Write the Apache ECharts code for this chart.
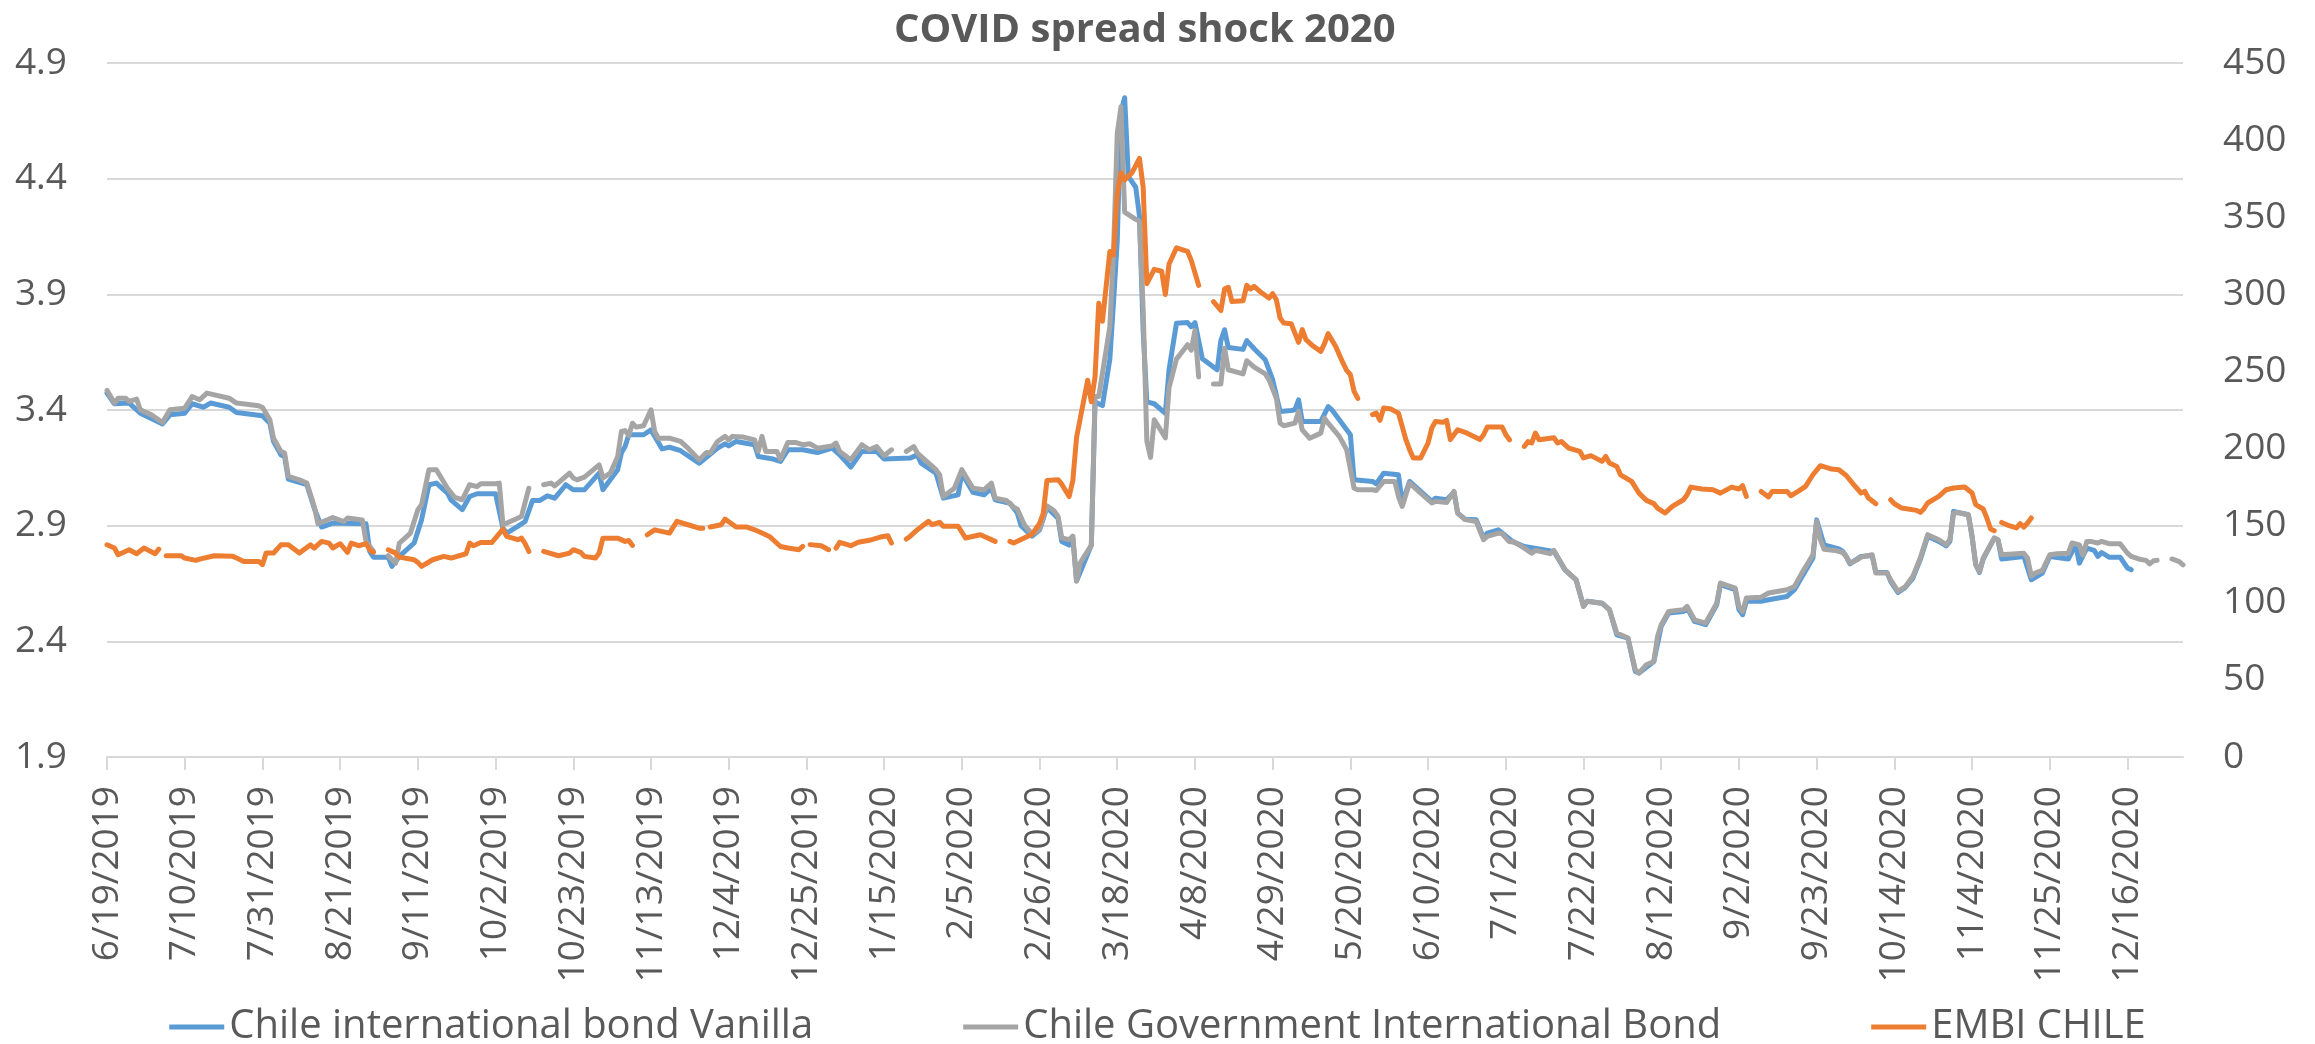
<!DOCTYPE html>
<html>
<head>
<meta charset="utf-8">
<title>COVID spread shock 2020</title>
<script src="https://cdn.jsdelivr.net/npm/echarts@6/dist/echarts.min.js"></script>
<style>
  html, body { margin: 0; padding: 0; background: #ffffff; }
  #chart { width: 2315px; height: 1044px; }
</style>
</head>
<body>
<div id="chart"></div>
<script>
// axis range: one category per calendar day, 6/19/2019 .. 12/31/2020
const startDay = [2019, 5, 19]
const dayCount = 562

// [day index, value]; '-' = no quote that day (holiday), line breaks there
const vanilla = [
  [0,3.473],[2,3.427],[6,3.430],[9,3.386],[15,3.340],[17,3.379],[21,3.386],[23,3.427],[26,3.412],[28,3.430],
  [33,3.412],[35,3.389],[42,3.375],[44,3.343],[45,3.264],[47,3.206],[48,3.199],[49,3.101],[54,3.077],[56,2.976],
  [58,2.894],[61,2.911],[70,2.908],[71,2.789],[72,2.764],[76,2.764],[77,2.724],[79,2.767],[83,2.825],[85,2.925],
  [87,3.077],[89,3.084],[92,3.041],[93,3.010],[96,2.969],[98,3.026],[100,3.038],[105,3.038],[107,2.889],[108,2.868],
  [111,2.897],[113,2.918],[115,3.009],[117,3.009],[119,3.029],[121,3.019],[124,3.077],[126,3.055],[129,3.055],[133,3.127],
  [134,3.055],[138,3.142],[139,3.214],[140,3.242],[141,3.293],[145,3.293],[147,3.314],[148,3.286],[150,3.232],[152,3.239],
  [155,3.224],[157,3.202],[160,3.170],[162,3.196],[165,3.235],[167,3.254],[168,3.245],[170,3.264],[175,3.250],[176,3.199],
  [180,3.188],[182,3.178],[184,3.228],[188,3.228],[192,3.216],[196,3.235],[198,3.206],[201,3.153],[204,3.221],[208,3.221],
  [210,3.188],[217,3.192],[219,3.206],[220,3.170],[224,3.127],[226,3.019],[230,3.033],[231,3.127],[234,3.044],[237,3.033],
  [239,3.062],[240,3.012],[244,2.997],[246,2.955],[247,2.900],[250,2.855],[252,2.881],[254,2.979],[257,2.932],[258,2.832],
  [260,2.816],[261,2.847],[262,2.661],[266,2.816],[267,3.435],[269,3.419],[271,3.620],[272,3.868],[273,4.131],[274,4.688],
  [275,4.750],[276,4.410],[278,4.363],[279,4.239],[280,3.744],[281,3.435],[283,3.427],[286,3.385],[287,3.574],[289,3.775],
  [292,3.778],[293,3.760],[294,3.778],[296,3.622],[300,3.574],[301,3.700],[302,3.747],[303,3.670],[307,3.662],[308,3.700],
  [310,3.665],[313,3.617],[315,3.531],[317,3.394],[320,3.398],[321,3.401],[322,3.444],[323,3.350],[328,3.350],[330,3.415],
  [331,3.401],[336,3.293],[337,3.098],[342,3.091],[343,3.081],[345,3.127],[349,3.120],[350,2.998],[352,3.091],[355,3.048],
  [358,3.005],[359,3.019],[362,3.012],[364,3.044],[365,2.954],[367,2.928],[370,2.926],[372,2.846],[373,2.868],[376,2.882],
  [380,2.830],[383,2.810],[391,2.789],[394,2.709],[397,2.666],[399,2.551],[400,2.573],[404,2.565],[406,2.537],[408,2.428],
  [411,2.414],[413,2.270],[414,2.263],[418,2.313],[420,2.465],[422,2.522],[426,2.529],[427,2.544],[429,2.486],[432,2.472],
  [435,2.558],[436,2.645],[440,2.623],[441,2.537],[442,2.515],[443,2.573],[447,2.573],[449,2.580],[454,2.594],[456,2.623],
  [461,2.760],[462,2.925],[464,2.817],[468,2.800],[469,2.789],[470,2.767],[471,2.735],[474,2.767],[477,2.771],[478,2.698],
  [481,2.698],[482,2.659],[484,2.611],[486,2.634],[488,2.673],[490,2.753],[492,2.853],[495,2.832],[497,2.813],[498,2.832],
  [499,2.962],[503,2.947],[504,2.853],[505,2.731],[506,2.698],[507,2.756],[510,2.846],[511,2.839],[512,2.756],[518,2.767],
  [520,2.666],[523,2.695],[525,2.767],[530,2.756],[532,2.818],[533,2.738],[535,2.803],[537,2.793],[538,2.767],[539,2.784],
  [541,2.764],[544,2.764],[546,2.717],[547,2.709]
]

const govBond = [
  [0,3.485],[2,3.430],[3,3.451],[5,3.451],[6,3.437],[8,3.447],[9,3.401],[12,3.379],[15,3.346],[17,3.401],
  [21,3.408],[23,3.458],[25,3.444],[27,3.473],[33,3.451],[35,3.430],[41,3.418],[42,3.412],[44,3.358],[45,3.278],
  [47,3.221],[48,3.214],[49,3.113],[52,3.098],[54,3.084],[56,2.983],[57,2.908],[61,2.935],[64,2.918],[65,2.933],
  [69,2.925],[70,2.832],[72,2.789],[75,'-'],[76,2.770],[78,2.738],[79,2.825],[80,2.839],[82,2.868],[84,2.969],
  [85,2.990],[87,3.142],[89,3.142],[92,3.062],[94,3.022],[96,3.012],[98,3.077],[100,3.069],[101,3.081],[105,3.081],
  [106,3.084],[107,2.904],[112,2.940],[114,3.062],[117,'-'],[118,3.077],[120,3.084],[121,3.072],[125,3.127],[126,3.106],
  [127,3.098],[129,3.110],[133,3.163],[134,3.106],[136,3.127],[138,3.199],[139,3.307],[140,3.311],[141,3.290],[142,3.343],
  [143,3.326],[145,3.332],[147,3.401],[148,3.307],[149,3.278],[152,3.278],[155,3.264],[157,3.235],[160,3.185],[162,3.216],
  [163,3.214],[165,3.264],[167,3.286],[168,3.271],[169,3.286],[172,3.283],[175,3.271],[176,3.221],[177,3.286],[178,3.221],
  [181,3.221],[182,3.188],[184,3.260],[186,3.260],[188,3.250],[190,3.254],[192,3.235],[196,3.245],[197,3.257],[198,3.221],
  [201,3.185],[204,3.250],[206,3.228],[208,3.242],[210,3.202],[212,3.228],[215,'-'],[216,3.221],[218,3.242],[219,3.214],
  [224,3.142],[225,3.120],[226,3.026],[229,3.062],[231,3.142],[234,3.062],[237,3.055],[239,3.084],[240,3.019],[243,3.009],
  [245,2.980],[246,2.971],[248,2.901],[250,2.863],[252,2.886],[254,2.986],[256,2.963],[257,2.940],[258,2.847],[260,2.839],
  [261,2.855],[262,2.661],[263,2.739],[266,2.816],[267,3.458],[268,3.458],[271,3.760],[272,4.085],[273,4.595],[274,4.711],
  [275,4.255],[278,4.224],[279,4.216],[280,3.837],[281,3.265],[282,3.195],[283,3.358],[286,3.280],[287,3.497],[289,3.620],
  [292,3.682],[293,3.659],[294,3.744],[295,3.543],[296,'-'],[299,3.512],[301,3.512],[302,3.667],[303,3.574],[307,3.556],
  [308,3.613],[310,3.585],[313,3.556],[314,3.531],[316,3.451],[317,3.343],[318,3.332],[321,3.343],[322,3.394],[323,3.314],
  [325,3.278],[328,3.300],[329,3.365],[330,3.343],[333,3.286],[335,3.228],[337,3.062],[338,3.055],[342,3.055],[343,3.052],
  [345,3.091],[348,3.091],[349,3.026],[350,2.983],[352,3.084],[355,3.041],[358,2.998],[359,3.005],[362,3.000],[364,3.048],
  [365,2.954],[367,2.926],[370,2.918],[372,2.839],[373,2.854],[376,2.868],[377,2.865],[379,2.830],[380,2.832],[383,2.803],
  [385,2.781],[386,2.793],[390,2.779],[391,2.793],[394,2.709],[397,2.666],[399,2.551],[400,2.573],[404,2.565],[406,2.537],
  [408,2.436],[411,2.414],[413,2.277],[414,2.263],[416,2.299],[418,2.313],[419,2.421],[420,2.472],[422,2.529],[426,2.537],
  [427,2.551],[429,2.493],[432,2.479],[435,2.565],[436,2.652],[440,2.630],[441,2.551],[442,2.529],[443,2.587],[447,2.591],
  [449,2.609],[454,2.623],[456,2.637],[458,2.695],[461,2.774],[462,2.918],[463,2.840],[464,2.798],[467,2.793],[469,2.784],
  [470,2.767],[471,2.738],[473,2.753],[474,2.764],[477,2.774],[478,2.695],[481,2.695],[482,2.666],[484,2.616],[486,2.637],
  [488,2.681],[490,2.760],[492,2.861],[495,2.839],[497,2.818],[498,2.839],[499,2.954],[500,2.957],[503,2.947],[504,2.853],
  [505,2.731],[506,2.702],[507,2.760],[509,2.818],[510,2.846],[511,2.839],[512,2.774],[518,2.781],[519,2.760],[520,2.681],
  [521,2.695],[523,2.707],[525,2.774],[527,2.779],[530,2.781],[531,2.825],[533,2.817],[534,2.774],[535,2.832],[536,2.832],
  [538,2.825],[539,2.832],[541,2.822],[544,2.822],[546,2.781],[547,2.767],[549,2.756],[551,2.750],[552,2.735],[553,2.748],
  [554,2.750],[555,'-'],[558,2.756],[560,2.745],[561,2.731]
]

const embi = [
  [0,137.6],[2,135.5],[3,131.1],[6,134.4],[8,131.8],[10,135.5],[13,131.8],[14,134.8],[15,'-'],[16,130.5],
  [20,130.5],[21,129.0],[24,127.5],[25,128.3],[29,130.5],[34,130.1],[35,129.0],[37,126.8],[41,126.8],[42,124.7],
  [43,132.2],[45,132.2],[47,137.6],[49,137.6],[52,132.2],[55,137.6],[56,135.5],[58,139.8],[60,138.7],[61,135.5],
  [63,138.3],[65,132.7],[66,138.7],[68,137.0],[70,138.3],[71,134.4],[72,132.7],[75,'-'],[76,134.4],[78,132.2],
  [79,129.6],[83,127.9],[84,126.2],[85,123.6],[88,127.9],[91,130.1],[93,129.0],[97,131.8],[98,138.7],[99,137.0],
  [101,139.1],[104,139.1],[107,147.8],[108,143.0],[111,140.9],[112,141.9],[113,138.3],[114,133.3],[117,'-'],[118,133.3],
  [122,130.5],[125,132.2],[126,134.4],[128,132.7],[129,130.1],[132,129.0],[133,132.2],[134,141.9],[138,141.9],[140,139.8],
  [141,140.4],[142,137.2],[145,'-'],[146,144.1],[148,147.3],[152,145.2],[154,152.8],[157,150.6],[160,148.4],[161,148.4],
  [162,'-'],[163,149.1],[166,150.6],[167,154.3],[170,149.1],[173,149.1],[175,147.3],[177,145.2],[179,143.0],[182,136.5],
  [184,135.5],[187,134.4],[188,136.5],[189,'-'],[190,137.7],[193,137.0],[195,134.4],[196,'-'],[197,135.5],[198,139.2],
  [201,137.0],[203,139.2],[206,140.5],[209,142.6],[211,143.5],[212,138.7],[215,'-'],[216,141.3],[217,143.0],[219,147.4],
  [222,152.8],[223,150.6],[225,152.2],[226,149.6],[230,149.6],[232,142.0],[236,144.1],[238,142.0],[240,139.8],[243,'-'],
  [244,139.8],[245,138.7],[247,141.0],[250,144.5],[252,151.4],[253,158.0],[254,179.3],[257,179.8],[258,176.9],[260,168.9],
  [261,179.3],[262,207.1],[265,244.3],[266,230.3],[267,246.6],[268,294.2],[269,282.5],[271,327.8],[272,325.5],[273,364.9],
  [274,378.9],[275,374.2],[277,378.9],[279,388.1],[280,369.6],[281,306.9],[283,316.2],[285,315.0],[286,299.9],[287,319.7],
  [289,330.1],[292,327.8],[293,322.0],[294,313.9],[295,305.8],[296,'-'],[299,295.3],[301,289.5],[302,303.4],[303,304.6],
  [304,295.3],[307,295.8],[308,305.8],[309,303.4],[310,305.2],[312,301.0],[314,297.6],[315,300.4],[316,296.5],[317,284.6],
  [318,281.4],[320,281.0],[321,274.9],[322,268.9],[323,277.1],[324,270.6],[326,266.3],[328,263.0],[329,268.0],[330,274.5],
  [332,266.3],[334,255.5],[335,250.7],[336,247.9],[337,237.1],[338,232.5],[341,'-'],[342,222.0],[343,223.0],[344,218.3],
  [345,226.3],[347,225.6],[349,223.0],[350,214.4],[351,205.8],[352,199.3],[353,193.9],[355,193.9],[357,203.6],[358,213.3],
  [359,217.6],[361,217.0],[362,218.3],[363,205.8],[365,212.2],[367,210.5],[371,205.8],[372,209.0],[373,214.0],[376,214.0],
  [377,214.0],[378,209.0],[379,205.7],[380,'-'],[383,201.4],[384,204.6],[385,203.6],[386,210.1],[387,205.7],[391,207.0],
  [392,203.6],[393,204.6],[395,200.3],[398,198.2],[399,193.9],[401,195.4],[404,191.7],[405,194.9],[406,190.6],[408,188.4],
  [409,183.0],[412,178.7],[414,171.1],[416,166.4],[418,164.3],[419,161.4],[421,158.2],[423,162.5],[426,166.8],[427,170.1],
  [428,175.0],[431,173.8],[434,173.3],[436,171.1],[439,175.0],[441,173.8],[442,175.9],[443,169.0],[446,'-'],[447,172.2],
  [449,168.6],[450,172.2],[454,172.2],[455,169.4],[457,172.2],[459,175.5],[461,183.0],[463,188.9],[465,187.4],[466,186.7],
  [468,186.3],[470,182.5],[472,176.6],[474,171.2],[475,172.2],[476,167.9],[478,164.2],[481,'-'],[482,166.8],[483,164.2],
  [485,161.4],[489,159.9],[490,158.6],[491,161.0],[492,164.7],[495,169.0],[497,173.3],[499,174.4],[502,175.1],[504,171.2],
  [505,163.6],[507,160.8],[508,155.0],[509,147.8],[510,146.7],[511,'-'],[512,152.1],[514,150.0],[516,148.5],[517,151.3],
  [518,149.1],[519,151.7],[520,155.0]
]

const seriesNames = ['Chile international bond Vanilla', 'Chile Government International Bond', 'EMBI CHILE']
const colors = ['#5B9BD5', '#A5A5A5', '#ED7D31']

// date labels M/D/YYYY for every day on the axis
const categories = []
for (let i = 0; i < dayCount; i++) {
  const d = new Date(Date.UTC(startDay[0], startDay[1], startDay[2] + i))
  categories.push((d.getUTCMonth() + 1) + '/' + d.getUTCDate() + '/' + d.getUTCFullYear())
}

const font = 'Open Sans'
const txt = '#595959'
const grid = '#D9D9D9'

const makeLine = (idx, data, yIdx) => ({
  name: seriesNames[idx],
  type: 'line',
  yAxisIndex: yIdx,
  data: data,
  showSymbol: false,
  symbol: 'none',
  connectNulls: false,
  itemStyle: { color: colors[idx] },
  lineStyle: { color: colors[idx], width: 5, cap: 'round', join: 'round' }
})

const myChart = echarts.init(document.getElementById('chart'))
myChart.setOption({
  animation: false,
  backgroundColor: '#ffffff',
  title: {
    text: 'COVID spread shock 2020',
    left: 889,
    top: 6,
    textStyle: { fontFamily: font, fontSize: 40, fontWeight: 'bold', color: txt }
  },
  legend: {
    data: seriesNames,
    left: 'center',
    top: 1002,
    icon: 'rect',
    itemWidth: 55,
    itemHeight: 5,
    itemGap: 150,
    textStyle: { fontFamily: font, fontSize: 40, color: txt }
  },
  grid: { left: 107, right: 132, top: 63, bottom: 287 },
  xAxis: {
    type: 'category',
    data: categories,
    boundaryGap: false,
    axisLine: { lineStyle: { color: grid, width: 2 } },
    axisTick: { show: true, interval: 20, length: 13, lineStyle: { color: grid, width: 2 } },
    axisLabel: {
      interval: 20,
      rotate: 90,
      margin: 29,
      fontFamily: font,
      fontSize: 37,
      color: txt
    },
    splitLine: { show: false }
  },
  yAxis: [
    {
      type: 'value',
      min: 1.9,
      max: 4.9,
      interval: 0.5,
      axisLine: { show: false },
      axisTick: { show: false },
      axisLabel: { margin: 40, fontFamily: font, fontSize: 37, color: txt, formatter: v => v.toFixed(1) },
      splitLine: { lineStyle: { color: grid, width: 2 } }
    },
    {
      type: 'value',
      position: 'right',
      min: 0,
      max: 450,
      interval: 50,
      axisLine: { show: false },
      axisTick: { show: false },
      axisLabel: { margin: 40, fontFamily: font, fontSize: 37, color: txt },
      splitLine: { show: false }
    }
  ],
  series: [
    makeLine(0, vanilla, 0),
    makeLine(1, govBond, 0),
    makeLine(2, embi, 1)
  ]
})
</script>
</body>
</html>
